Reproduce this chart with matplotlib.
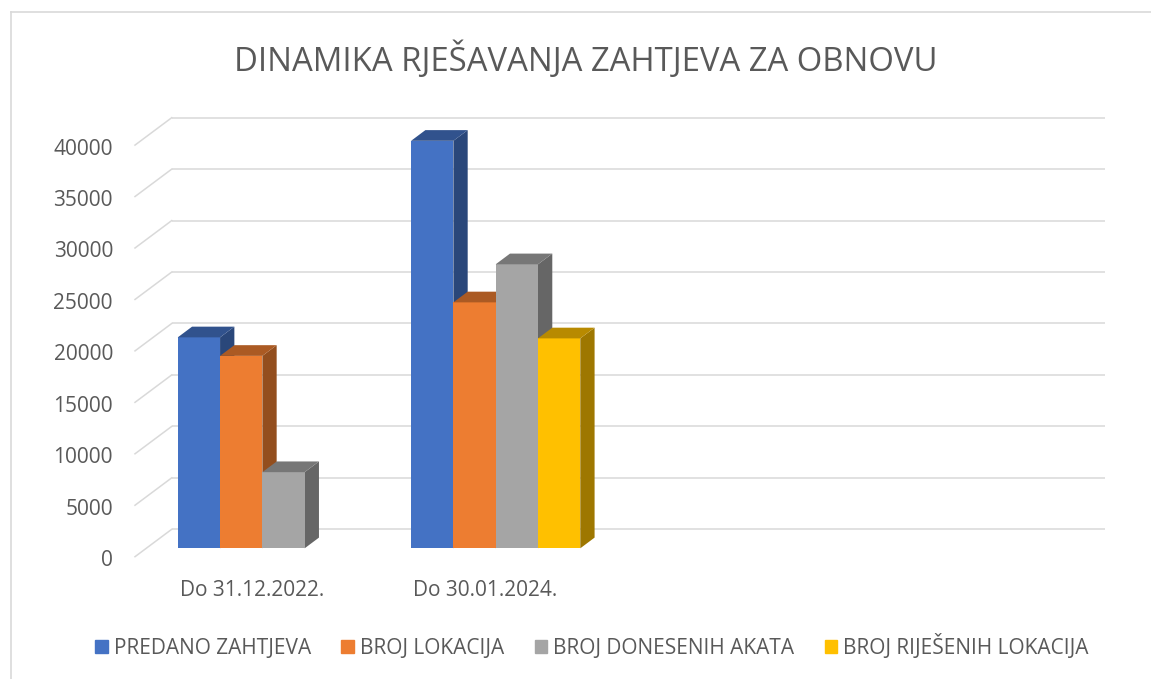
import matplotlib
matplotlib.use("Agg")
import matplotlib.pyplot as plt
from matplotlib.patches import Polygon, Rectangle
from matplotlib.lines import Line2D
import numpy as np

# ---- data ----
categories = ["Do 31.12.2022.", "Do 30.01.2024.", "", ""]
series_names = ["PREDANO ZAHTJEVA", "BROJ LOKACIJA", "BROJ DONESENIH AKATA", "BROJ RIJEŠENIH LOKACIJA"]
predano = [20500, 39600, None, None]
lokacija = [18700, 23900, None, None]
akata = [7400, 27600, None, None]
rijeseno = [None, 20400, None, None]
yticks = [0, 5000, 10000, 15000, 20000, 25000, 30000, 35000, 40000]
title = "DINAMIKA RJEŠAVANJA ZAHTJEVA ZA OBNOVU"

series = [predano, lokacija, akata, rijeseno]
colors = ["#4472C4", "#ED7D31", "#A5A5A5", "#FFC000"]

def shade(hexc, f):
    c = np.array(matplotlib.colors.to_rgb(hexc))
    return tuple(c * f)

FONT = ["Open Sans", "DejaVu Sans"]
TXT = "#595959"
GRID = "#d9d9d9"

W_PX, H_PX = 1151, 679
fig = plt.figure(figsize=(W_PX / 100, H_PX / 100), dpi=100)

# axes = bar front plane
x0px, x1px = 145.7, 1079.0
y0px, y1px = 548.3, 136.7
ax = fig.add_axes([x0px / W_PX, 1 - y0px / H_PX, (x1px - x0px) / W_PX, (y0px - y1px) / H_PX])
xmin, xmax = -0.5, len(categories) - 0.5
ymin, ymax = 0, 40000
ax.set_xlim(xmin, xmax)
ax.set_ylim(ymin, ymax)
ax.axis("off")

sx = (xmax - xmin) / (x1px - x0px)
sy = (ymax - ymin) / (y0px - y1px)

def off(px, py):
    return px * sx, -py * sy

bdx, bdy = off(26, -19)      # back wall
fdx, fdy = off(-10.7, 8.4)   # front edge
ddx, ddy = off(14.3, -10.7)  # bar depth

# gridlines
for v in yticks:
    ax.plot([xmin + bdx, xmax + bdx], [v + bdy] * 2, color=GRID, lw=1.1, zorder=1, clip_on=False,
            solid_capstyle="butt")
    ax.plot([xmin + bdx, xmin + fdx], [v + bdy, v + fdy], color=GRID, lw=1.1, zorder=1, clip_on=False)
    ax.text(xmin + fdx - 22 * sx, v + fdy - 4 * sy, str(v), ha="right", va="center", fontsize=15,
            color=TXT, family=FONT)

# bars, drawn left to right so nearer faces overlap correctly
nser = len(series)
bw = 42.3 * sx
handles = [Rectangle((0, 0), 1, 1, color=c) for c in colors]
z = 2.0
for j in range(len(categories)):
    for i, (vals, col) in enumerate(zip(series, colors)):
        h = vals[j]
        if h is None:
            continue
        xc = j + (i - (nser - 1) / 2) * bw
        xl, xr = xc - bw / 2, xc + bw / 2
        side = Polygon([(xr, 0), (xr + ddx, ddy), (xr + ddx, h + ddy), (xr, h)], closed=True,
                       facecolor=shade(col, 0.62), edgecolor="none", zorder=z, clip_on=False)
        ax.add_patch(side)
        ax.bar(xc, h, width=bw, color=col, linewidth=0, zorder=z + 0.001, clip_on=False)
        top = Polygon([(xl, h), (xr, h), (xr + ddx, h + ddy), (xl + ddx, h + ddy)], closed=True,
                      facecolor=shade(col, 0.72), edgecolor="none", zorder=z + 0.002, clip_on=False)
        ax.add_patch(top)
        z += 0.01

# category labels
for j, lab in enumerate(categories):
    if lab:
        ax.text(j + fdx, fdy - 34 * sy, lab, ha="center", va="center", fontsize=15, color=TXT, family=FONT)

# title
fig.text(586 / W_PX, 1 - 60 / H_PX, title, ha="center", va="center", fontsize=23.7, color=TXT, family=FONT)

# legend
leg = fig.legend(handles, series_names, loc="center", bbox_to_anchor=(592 / W_PX, 1 - 646 / H_PX),
                 ncol=4, frameon=False, handlelength=0.6, handleheight=0.6, handletextpad=0.3,
                 columnspacing=1.45, prop={"family": FONT, "size": 15})
for t in leg.get_texts():
    t.set_color(TXT)

# chart border
fig.add_artist(Line2D([11 / W_PX, 11 / W_PX], [0, 1 - 12 / H_PX], color=GRID, lw=1.2, transform=fig.transFigure))
fig.add_artist(Line2D([11 / W_PX, 1], [1 - 12 / H_PX] * 2, color=GRID, lw=1.2, transform=fig.transFigure))

fig.savefig("out.png", dpi=100, facecolor="white")
